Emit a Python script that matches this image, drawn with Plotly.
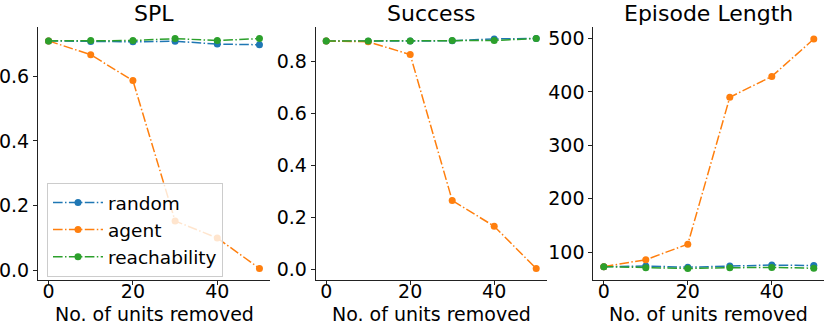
import plotly.graph_objects as go

units = [0, 10, 20, 30, 40, 50]

spl_random = [0.710, 0.708, 0.707, 0.709, 0.700, 0.698]
spl_agent = [0.710, 0.667, 0.587, 0.152, 0.099, 0.005]
spl_reach = [0.710, 0.711, 0.711, 0.717, 0.711, 0.717]

succ_random = [0.880, 0.879, 0.880, 0.881, 0.888, 0.890]
succ_agent = [0.880, 0.877, 0.828, 0.266, 0.167, 0.004]
succ_reach = [0.880, 0.880, 0.880, 0.882, 0.882, 0.890]

len_random = [73, 74, 72, 74, 76, 75]
len_agent = [73, 86, 115, 390, 429, 499]
len_reach = [73, 71, 69.5, 71, 71.5, 70]

titles = ["SPL", "Success", "Episode Length"]
names = ["random", "agent", "reachability"]
colors = ["#1f77b4", "#ff7f0e", "#2ca02c"]

panels = [
    [spl_random, spl_agent, spl_reach],
    [succ_random, succ_agent, succ_reach],
    [len_random, len_agent, len_reach],
]

W, H = 831, 324
x_px = [(38, 270), (315.7, 546.7), (593.3, 824.3)]
y_px = (27, 280)
y_ranges = [[-0.031, 0.753], [-0.040, 0.934], [48, 521.5]]
y_ticks = [[0, 0.2, 0.4, 0.6], [0, 0.2, 0.4, 0.6, 0.8], [100, 200, 300, 400, 500]]
y_fmt = [".1f", ".1f", "d"]

font = "DejaVu Sans"
fig = go.Figure()

for i, series in enumerate(panels):
    suffix = "" if i == 0 else str(i + 1)
    for j, vals in enumerate(series):
        fig.add_trace(go.Scatter(
            x=units, y=vals, name=names[j], mode="lines+markers",
            line=dict(color=colors[j], width=1.5, dash="9.6px,2.4px,1.5px,2.4px"),
            marker=dict(color=colors[j], size=7),
            xaxis="x" + suffix, yaxis="y" + suffix,
            showlegend=(i == 0),
        ))
    dom_x = [x_px[i][0] / W, x_px[i][1] / W]
    dom_y = [1 - y_px[1] / H, 1 - y_px[0] / H]
    axis_common = dict(showline=True, linecolor="#222", linewidth=1,
                       ticks="outside", ticklen=4, tickcolor="#222",
                       showgrid=False, zeroline=False, automargin=False,
                       tickfont=dict(size=19, color="black", family=font))
    fig.update_layout({
        "xaxis" + suffix: dict(domain=dom_x, range=[-2.5, 52.5],
                               tickvals=[0, 20, 40], anchor="y" + suffix,
                               ticklabelstandoff=-10, **axis_common),
        "yaxis" + suffix: dict(domain=dom_y, range=y_ranges[i],
                               tickvals=y_ticks[i], tickformat=y_fmt[i],
                               anchor="x" + suffix, **axis_common),
    })
    mid = (dom_x[0] + dom_x[1]) / 2
    fig.add_annotation(text=titles[i], x=mid, y=1 - 14 / H,
                       xref="paper", yref="paper", showarrow=False,
                       xanchor="center", yanchor="middle",
                       font=dict(size=22, color="black", family=font))
    fig.add_annotation(text="No. of units removed", x=mid, y=1 - 314 / H,
                       xref="paper", yref="paper", showarrow=False,
                       xanchor="center", yanchor="middle",
                       font=dict(size=19, color="black", family=font))

fig.update_layout(
    width=W, height=H, margin=dict(l=0, r=0, t=0, b=0),
    plot_bgcolor="white", paper_bgcolor="white",
    font=dict(family=font, color="black"),
    legend=dict(x=47 / W, y=1 - 183 / H, xanchor="left", yanchor="top",
                bgcolor="rgba(255,255,255,0.8)", bordercolor="#cccccc", borderwidth=1,
                font=dict(size=18.5, color="black", family=font), itemwidth=50,
                tracegroupgap=0),
)

# the page body has a default 8px margin; drop it so the figure sits at 0,0
fig.write_html("out.html", config={"displayModeBar": False},
               post_script="document.body.style.margin='0';")
